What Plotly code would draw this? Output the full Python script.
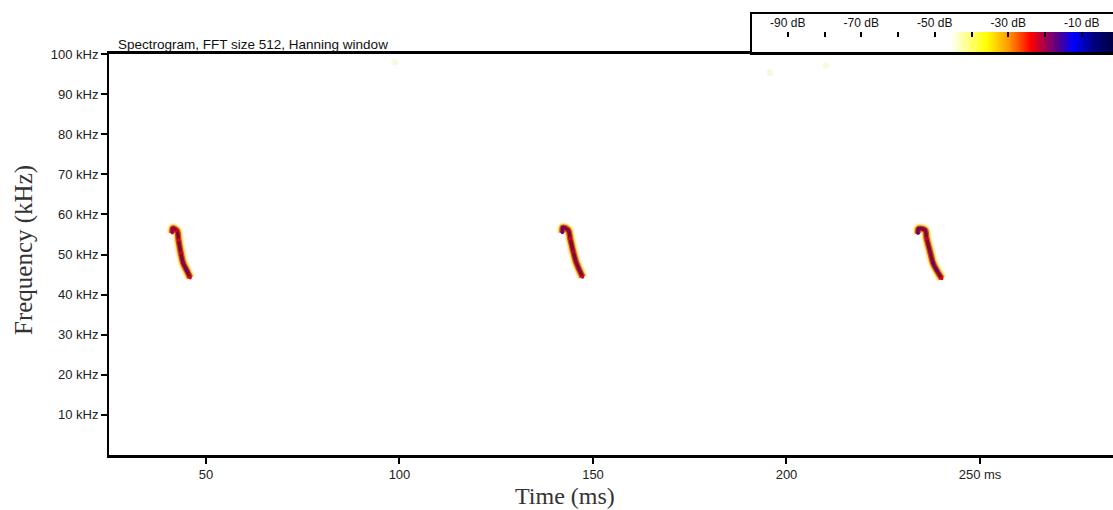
import plotly.graph_objects as go

# ---- data ----
call1_time_ms = [41.3, 41.4, 42.5, 42.9, 43.5, 44.1, 45.0, 45.9]
call1_freq_khz = [55.4, 56.5, 55.9, 53.6, 50.4, 47.9, 46.1, 44.2]
call1_db = [-21, -20, -22, -23, -22, -19, -18, -23]

call2_time_ms = [142.1, 142.2, 143.6, 144.1, 144.9, 145.6, 146.5, 147.3]
call2_freq_khz = [55.5, 56.7, 56.1, 54.0, 50.7, 48.2, 46.1, 44.4]
call2_db = [-18, -17, -20, -22, -21, -20, -19, -23]

call3_time_ms = [234.0, 234.1, 235.8, 236.2, 237.1, 237.9, 238.8, 240.1]
call3_freq_khz = [55.3, 56.4, 56.1, 54.0, 50.7, 47.8, 46.1, 44.0]
call3_db = [-18, -17, -19, -21, -19, -17, -17, -23]

faint_time_ms = [98.8, 195.7, 210.2]
faint_freq_khz = [98.0, 95.3, 97.2]

x_tick_vals = [50, 100, 150, 200, 250]
x_tick_text = ["50", "100", "150", "200", "250 ms"]
y_tick_vals = [10, 20, 30, 40, 50, 60, 70, 80, 90, 100]
y_tick_text = ["10 kHz", "20 kHz", "30 kHz", "40 kHz", "50 kHz",
               "60 kHz", "70 kHz", "80 kHz", "90 kHz", "100 kHz"]

colorbar_levels_db = [-100, -90, -80, -70, -60, -50, -40, -30, -20, -10, 0]
colorbar_tick_vals = [-90, -80, -70, -60, -50, -40, -30, -20, -10]
colorbar_tick_text = ["-90 dB", "", "-70 dB", "", "-50 dB", "", "-30 dB", "", "-10 dB"]

colorscale = [
    [0.00, "#ffffff"], [0.54, "#ffffff"], [0.64, "#ffff00"], [0.70, "#ff9900"],
    [0.76, "#ff0000"], [0.80, "#a00050"], [0.84, "#4a0098"], [0.875, "#0000ff"],
    [0.93, "#000080"], [1.00, "#000030"],
]

fig = go.Figure()

calls = [(call1_time_ms, call1_freq_khz, call1_db),
         (call2_time_ms, call2_freq_khz, call2_db),
         (call3_time_ms, call3_freq_khz, call3_db)]

layers = [(10.5, "#fff4b8"), (8, "#ffd050"), (6, "#d84a1c"), (3.6, "#7a0c2c")]

for t, f, db in calls:
    for w, c in layers:
        fig.add_trace(go.Scatter(x=t, y=f, mode="lines",
                                 line=dict(color=c, width=w, shape="spline"),
                                 hoverinfo="skip", showlegend=False))
    fig.add_trace(go.Scatter(x=t, y=f, mode="markers",
                             marker=dict(color=db, colorscale=colorscale, cmin=-100, cmax=0,
                                         size=3.5, line=dict(width=0)),
                             showlegend=False))

fig.add_trace(go.Scatter(x=faint_time_ms, y=faint_freq_khz, mode="markers",
                         marker=dict(color="#f8f8d8", size=7, opacity=0.8),
                         hoverinfo="skip", showlegend=False))

# colour legend gradient
fig.add_trace(go.Heatmap(x=colorbar_levels_db, y=[0, 1],
                         z=[colorbar_levels_db, colorbar_levels_db],
                         colorscale=colorscale, zmin=-100, zmax=0, zsmooth="best",
                         showscale=False, hoverinfo="skip",
                         xaxis="x2", yaxis="y2"))

tick_font = dict(family="Liberation Sans, Arial, sans-serif", size=13, color="#222222")
plot_top = 401 / 442

fig.update_layout(
    width=1113, height=510,
    margin=dict(l=109, r=0, t=13, b=55),
    paper_bgcolor="white", plot_bgcolor="white",
    xaxis=dict(domain=[0, 1], range=[24.94, 284.37], tickvals=x_tick_vals, ticktext=x_tick_text,
               showgrid=False, zeroline=False, showline=True, linecolor="black", linewidth=2.5,
               mirror=True, ticks="outside", ticklen=6, tickwidth=1.5, tickcolor="black",
               tickfont=tick_font, anchor="y"),
    yaxis=dict(domain=[0, plot_top], range=[0, 100], tickvals=y_tick_vals, ticktext=y_tick_text,
               showgrid=False, zeroline=False, showline=True, linecolor="black", linewidth=2,
               ticks="outside", ticklen=6, tickwidth=1.5, tickcolor="black",
               tickfont=tick_font, anchor="x"),
    xaxis2=dict(domain=[(751 - 109) / 1004, 1], range=[-100, -1.5], anchor="free",
                position=(455 - 37) / 442, side="top", tickvals=colorbar_tick_vals,
                ticktext=colorbar_tick_text, ticks="outside", ticklen=5, tickwidth=2,
                tickcolor="black", showgrid=False, zeroline=False, showline=False,
                tickfont=dict(family="Liberation Sans, Arial, sans-serif", size=12, color="#111111")),
    yaxis2=dict(domain=[plot_top, 1], range=[-0.7, 3.4], anchor="x2", visible=False,
                showgrid=False, zeroline=False),
    shapes=[dict(type="rect", xref="x2 domain", yref="y2 domain", x0=0, x1=1.02, y0=0, y1=1,
                 line=dict(color="black", width=2), fillcolor="rgba(0,0,0,0)")],
    annotations=[
        dict(text="Spectrogram, FFT size 512, Hanning window", xref="paper", yref="paper",
             x=(116 - 109) / 1004, y=(455 - 45) / 442, xanchor="left", yanchor="middle",
             showarrow=False, font=dict(family="Liberation Sans, Arial, sans-serif", size=13.5,
                                        color="#111111")),
        dict(text="Time (ms)", xref="paper", yref="paper",
             x=(565 - 109) / 1004, y=(455 - 496) / 442, xanchor="center", yanchor="middle",
             showarrow=False, font=dict(family="Liberation Serif, Times New Roman, serif",
                                        size=24, color="#333333")),
        dict(text="Frequency (kHz)", xref="paper", yref="paper", textangle=-90,
             x=(24 - 109) / 1004, y=(455 - 250) / 442, xanchor="center", yanchor="middle",
             showarrow=False, font=dict(family="Liberation Serif, Times New Roman, serif",
                                        size=25, color="#333333")),
    ],
)

fig.write_html("out.html",
               config={"displayModeBar": False},
               post_script="document.body.style.margin='0';"
                           "document.documentElement.style.overflow='hidden';")
